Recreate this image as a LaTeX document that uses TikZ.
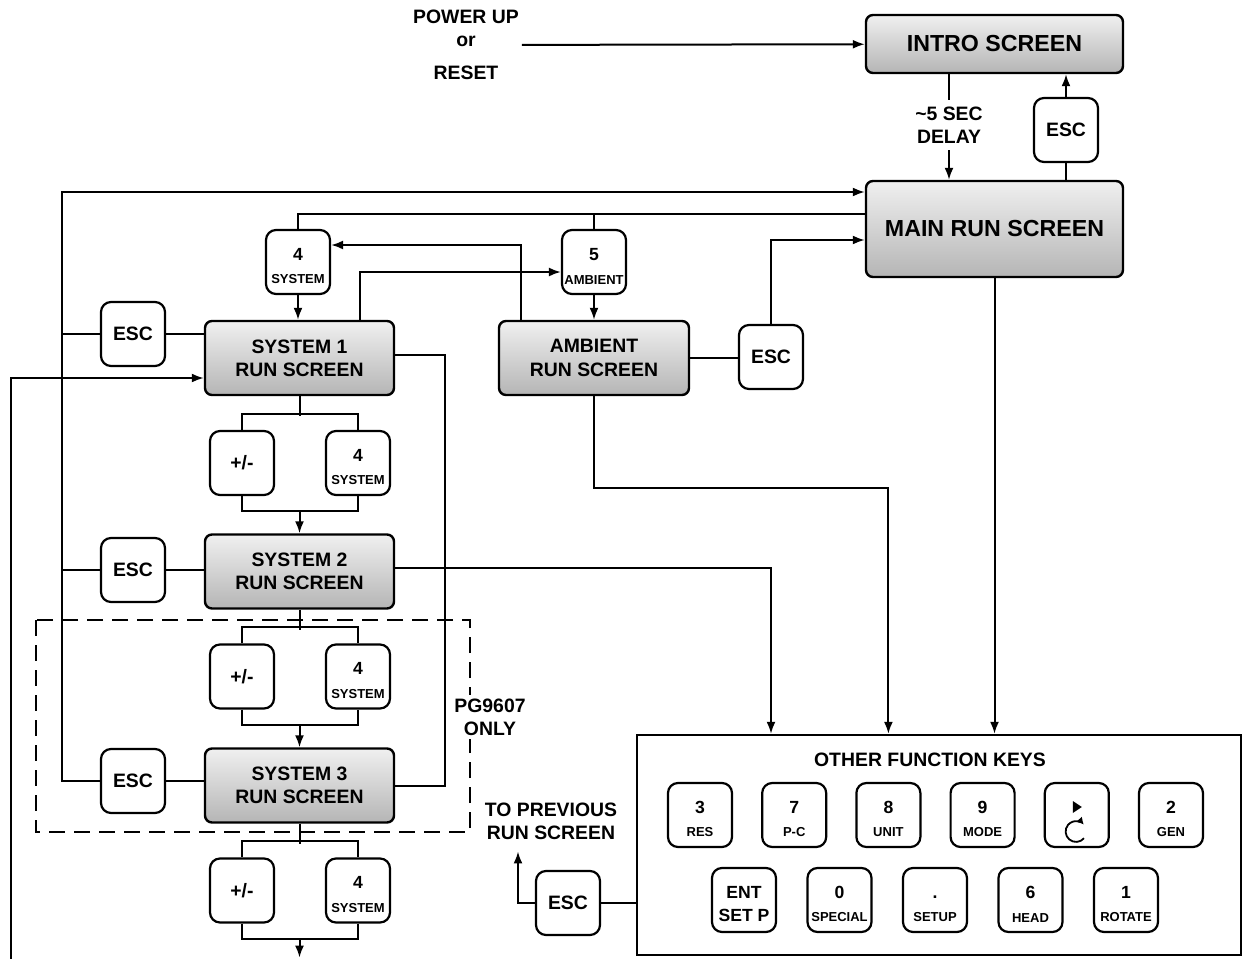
\documentclass[tikz,border=0pt]{standalone}
\usepackage{fontspec}
\setmainfont{Liberation Sans}
\usetikzlibrary{arrows.meta}
\newcommand\bigfont{\fontsize{11.6}{14}\selectfont\bfseries}
\newcommand\midfont{\fontsize{9.7}{11.6}\selectfont\bfseries}
\newcommand\keyfont{\fontsize{8.8}{11.8}\selectfont\bfseries}
\newcommand\keylab[1]{{\fontsize{6.5}{11.8}\selectfont #1}}
\tikzset{
  scr/.style={draw, line width=1.2pt, rounded corners=3.5pt, top color=gray!12, bottom color=gray!58,
    font=\midfont, align=center, inner sep=0pt},
  key/.style={draw, line width=1.1pt, rounded corners=5pt, fill=white, minimum width=32pt,
    minimum height=32pt, inner sep=0pt, font=\midfont, align=center},
  keytwo/.style={key, font=\keyfont, text height=22pt},
  >={Latex[length=6pt,width=4.5pt]}
}

\begin{document}
\begin{tikzpicture}[x=0.5pt,y=-0.5pt,line width=1pt]
\useasboundingbox (0,0) rectangle (1243,959);
% screens at the top
\node[font=\midfont, align=center, inner sep=1pt] (power) at (466,45) {POWER UP\\[-0.5pt]or\\[5pt]RESET};
\node[scr, font=\bigfont, minimum width=128.5pt, minimum height=29pt] (intro) at (994.5,44) {INTRO SCREEN};
\node[scr, font=\bigfont, minimum width=128.5pt, minimum height=48pt] (main) at (994.5,229) {MAIN RUN SCREEN};
\node[font=\midfont, align=center, inner sep=3pt] (dly) at (949,125) {\textasciitilde5 SEC\\DELAY};
\node[key] (esc-M) at (1066,130) {ESC};
\draw[->] (power) -- (intro);
\draw (intro.south -| dly) -- (dly);
\draw[->] (dly) -- (dly |- main.north);
\draw (main.north -| esc-M) -- (esc-M);
\draw[->] (esc-M) -- (esc-M |- intro.south);

% system and ambient screens
\node[keytwo] (k4) at (298,262) {4\\\keylab{SYSTEM}};
\node[keytwo] (k5) at (594,262) {5\\\keylab{AMBIENT}};
\node[scr, minimum width=95pt, minimum height=37pt] (amb) at (594,358) {AMBIENT\\RUN SCREEN};
\node[key] (esc-A) at (771,357) {ESC};
\foreach \i/\yy in {1/358,2/571.5,3/785.5}{
  \node[scr, minimum width=94.5pt, minimum height=37pt] (sys-\i) at (299.5,\yy) {SYSTEM \i\\RUN SCREEN};
  \node[key] (pm-\i) at (242,{\yy+105}) {+/-};
  \node[keytwo] (four-\i) at (358,{\yy+105}) {4\\\keylab{SYSTEM}};
  \path (pm-\i.south) ++(0,15) coordinate (mg-\i);
  \draw (sys-\i.south) -- ++(0,20);
  \draw (pm-\i.north) -- ++(0,-16) -| (four-\i.north);
  \draw (pm-\i.south) -- (mg-\i) -| (four-\i.south);
}
\foreach \i/\yy in {1/334,2/570,3/781}{
  \node[key] (esc-\i) at (133,\yy) {ESC};
  \draw (esc-\i) -- (esc-\i -| sys-\i.west);
}
\draw[->] (mg-1 -| sys-1) -- (sys-2);
\draw[->] (mg-2 -| sys-2) -- (sys-3);
\draw[->] (mg-3 -| sys-3) -- ++(0,19);

% connectors round the screens
\coordinate (bus) at (62,192);
\coordinate (fork) at (594,214);
\coordinate (up4) at (521,245);
\coordinate (up5) at (360,272);
\coordinate (wrap) at (11,959);
\draw[->] (esc-3.west) -| (bus) -- (bus -| main.west);
\draw (esc-1.west) -- (esc-1 -| bus);
\draw (esc-2.west) -- (esc-2 -| bus);
\draw (main.west |- fork) -- (fork) -| (k4.north);
\draw (fork) -- (k5.north);
\draw[->] (k4.south) -- (k4.south |- sys-1.north);
\draw[->] (k5.south) -- (k5.south |- amb.north);
\draw[->] (amb.north -| up4) -- (up4) -- (up4 -| k4.east);
\draw[->] (sys-1.north -| up5) -- (up5) -- (up5 -| k5.west);
\draw (amb.east) -- (amb.east -| esc-A.west);
\draw[->] (esc-A) |- ([yshift=-5.5pt]main.west);
\draw[->] (wrap) |- ([yshift=-10pt]sys-1.west);
\draw ([yshift=1.5pt]sys-1.east) -- ++(50,0) |- (sys-3.east);

% PG9607 box
\draw[dash pattern=on 8pt off 4.5pt, line width=1.2pt] (36,620) rectangle (470,832);
\node[font=\midfont, fill=white, align=center, inner sep=2pt] (pg) at (490,717) {PG9607\\ONLY};

% other function keys
\node[draw, line width=1.2pt, minimum width=302pt, minimum height=110pt] (keys) at (939,845) {};
\node[font=\midfont] (keyhead) at (930,760) {OTHER FUNCTION KEYS};
\foreach \n/\lab [count=\c] in {3/RES,7/P-C,8/UNIT,9/MODE,/,2/GEN}
  \node[keytwo] (t-\c) at ({700+94.2*(\c-1)},815) {\n\\\keylab{\lab}};
\foreach \n/\lab [count=\c] in {ENT/SET P,0/\keylab{SPECIAL},./\keylab{SETUP},6/\keylab{HEAD},1/\keylab{ROTATE}}
  \node[keytwo] (b-\c) at ({744+95.5*(\c-1)},900) {\n\\\lab};
\fill (t-5.center) ++(-4,-14) -- ++(0,12) -- ++(9,-6) -- cycle;
\draw[line width=0.9pt, -{Latex[length=3.5pt,width=4pt]}] (t-5.center) ++(7.2,23.2) arc[start angle=-40, end angle=-318, radius=5.2pt];
\node[key] (esc-K) at (568,903) {ESC};
\node[font=\midfont, align=center, inner sep=1pt] (prev) at (551,821) {TO PREVIOUS\\RUN SCREEN};
\draw (esc-K.east) -- (esc-K.east -| keys.west);
\draw[->, shorten >=4.5pt] (esc-K.west) -| ([xshift=-16.5pt]prev.south);
\draw[->] ([yshift=2pt]sys-2.east) -| (esc-A |- keys.north);
\draw[->] (amb.south) -- ++(0,92) -| (t-3 |- keys.north);
\draw[->] (main.south) -- (main.south |- keys.north);
\end{tikzpicture}
\end{document}
